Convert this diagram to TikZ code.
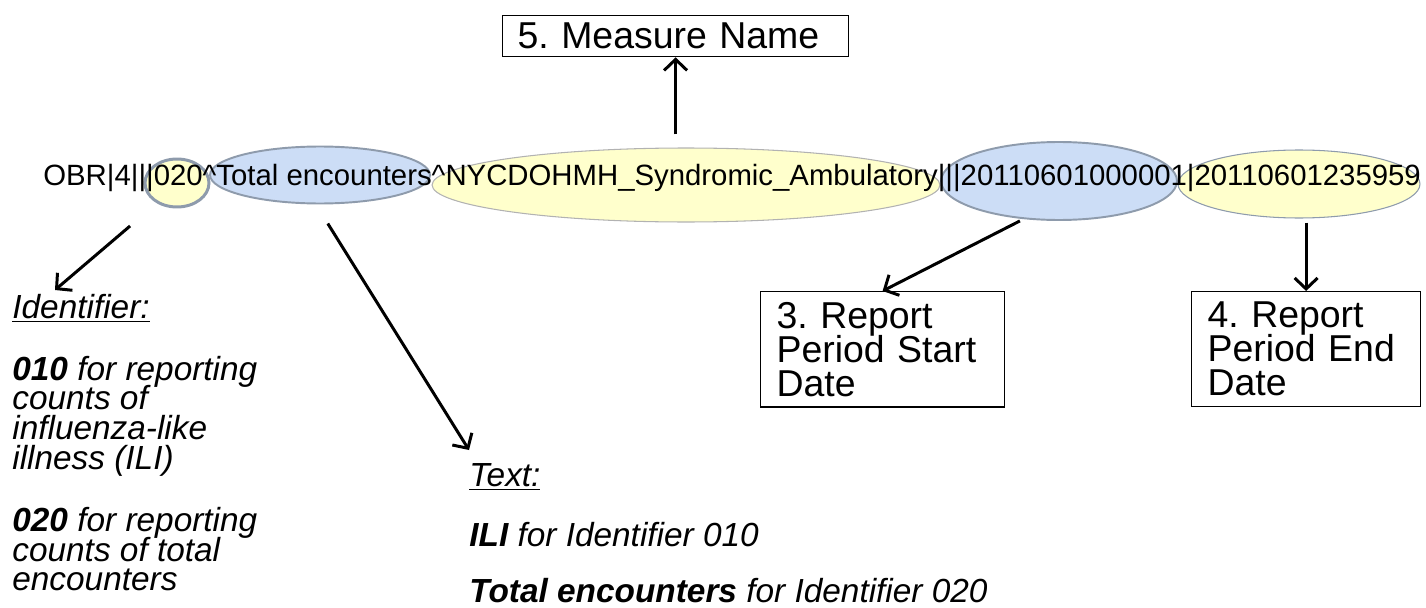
\documentclass[tikz,border=0pt]{standalone}
\usepackage{fontspec}
\setmainfont{Liberation Sans}
\usetikzlibrary{shapes.geometric,arrows.meta,calc}
\definecolor{ovalyellow}{RGB}{255,255,204}
\definecolor{ovalblue}{RGB}{204,221,246}
\definecolor{ovalline}{RGB}{142,155,172}
\def\segfont{\fontsize{16.7}{19}\selectfont}
\def\boxfont{\fontsize{21.3}{19.3}\selectfont\lineskiplimit=-20pt}
\def\notefont{\fontsize{19}{17}\selectfont\itshape\lineskiplimit=-20pt}
\frenchspacing
\tikzset{
  oval/.style={ellipse, inner sep=0pt, draw=ovalline},
  fieldbox/.style={draw=black, line width=0.7pt, anchor=north west, align=left, font=\boxfont},
  pointer/.style={line width=1.7pt, -{Straight Barb[length=2.2mm,width=4.6mm]}},
}

\begin{document}
\begin{tikzpicture}[x=0.02cm,y=-0.02cm]
		%%%%% START %%%%%
		\useasboundingbox (0,0) rectangle (1426,608);
		
		% ovals behind the segment
		\node[oval, fill=ovalyellow, line width=1.7pt, minimum width=1.28cm, minimum height=0.96cm] (ident) at (177,183) {};
		\node[oval, fill=ovalblue, line width=1.1pt, minimum width=4.4cm, minimum height=1.14cm] (enc) at (320,175) {};
		\node[oval, fill=ovalyellow, draw=black!30, line width=0.6pt, minimum width=10.16cm, minimum height=1.48cm] (measure) at (686,185) {};
		\node[oval, fill=ovalblue, line width=1.1pt, minimum width=4.72cm, minimum height=1.56cm] (startdate) at (1059,181) {};
		\node[oval, fill=ovalyellow, line width=0.6pt, minimum width=4.84cm, minimum height=1.36cm] (enddate) at (1299,184) {};
		
		\node[anchor=base west, inner sep=0pt, font=\segfont] (obr) at (43,185)
		  {OBR|4|||020\textasciicircum Total encounters\textasciicircum NYCDOHMH\_Syndromic\_Ambulatory|||20110601000001|20110601235959};
		
		% boxes
		\node[fieldbox, inner xsep=0.3cm, inner ysep=0.15cm, text width=6.32cm] (measbox) at (502,15) {5. Measure Name};
		\node[fieldbox, inner xsep=0.32cm, inner ysep=0.21cm, text width=4.24cm] (startbox) at (760,291) {3. Report\\Period Start\\Date};
		\node[fieldbox, inner xsep=0.32cm, inner ysep=0.21cm, text width=3.94cm] (endbox) at (1191,291) {4. Report\\Period End\\Date};
		
		% notes
		\node[anchor=north west, inner sep=0pt, align=left, font=\notefont] (idnote) at (12,294)
		  {\underline{Identifier:}\\[18pt]
		   \textbf{010} for reporting\\counts of\\influenza-like\\illness (ILI)\\[18pt]
		   \textbf{020} for reporting\\counts of total\\encounters};
		\node[anchor=north west, inner sep=0pt, align=left, font=\notefont] (txtnote) at (469,463)
		  {\underline{Text:}\\[17pt]
		   \textbf{ILI} for Identifier 010\\[15pt]
		   \textbf{Total encounters} for Identifier 020};
		
		% arrows
		\draw[pointer, shorten <=0.7cm] (ident.225) -- ($(idnote.north west)+(43,-4)$);
		\draw[pointer, shorten <=0.45cm] (enc.262) -- ($(txtnote.north west)+(0,-13)$);
		\draw[pointer, shorten <=0.26cm] (measure.north -| measbox.south) -- (measbox.south);
		\draw[pointer, shorten <=0.08cm] (startdate.227) -- (startbox.north);
		\draw[pointer, shorten <=0.08cm] (enddate.south -| endbox.north) -- (endbox.north);
		
		%%%%% END %%%%%
\end{tikzpicture}
\end{document}
